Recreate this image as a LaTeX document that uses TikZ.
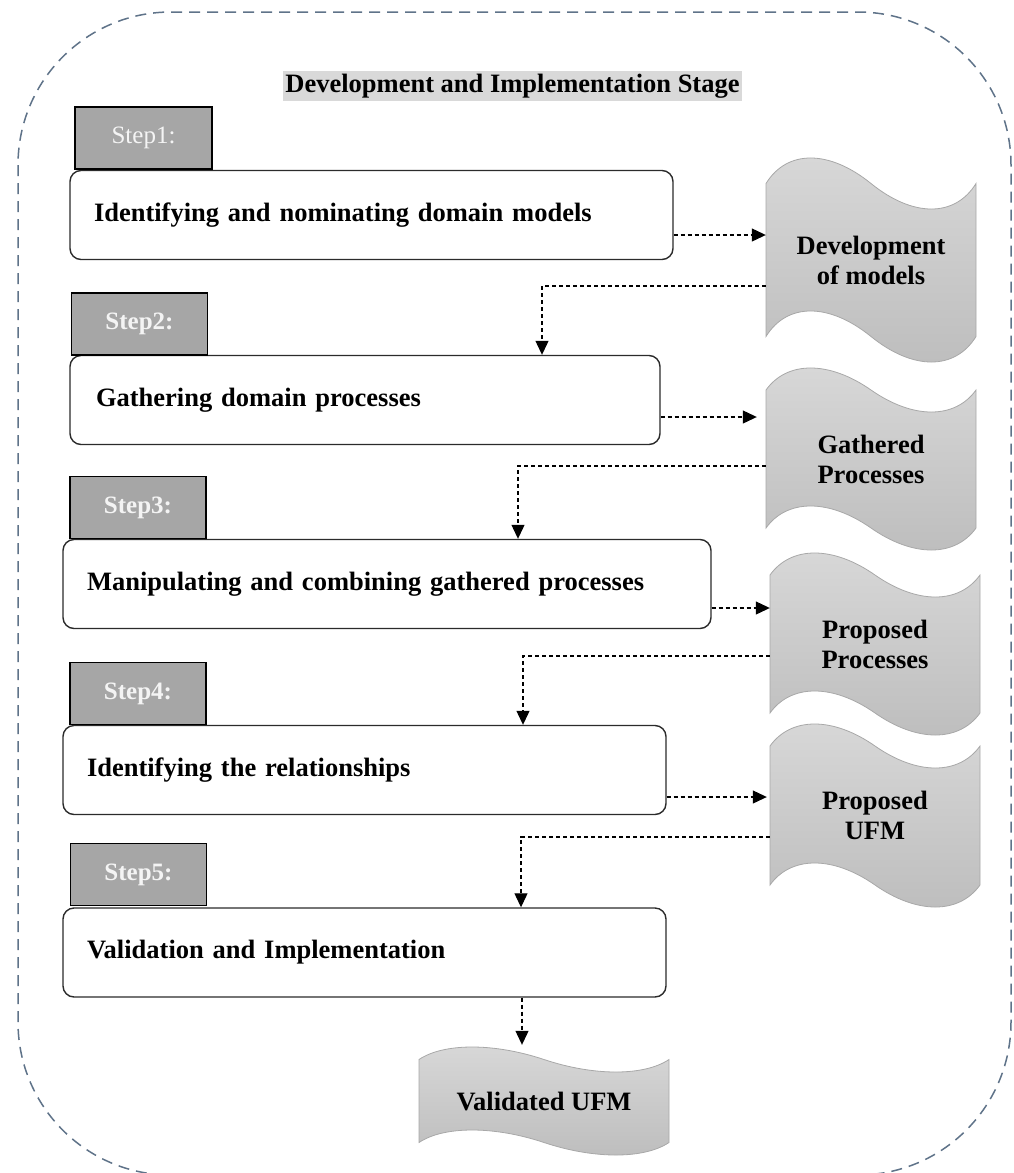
\documentclass[tikz,border=0pt]{standalone}
\usepackage{fontspec}
\setmainfont{Liberation Serif}
\usetikzlibrary{arrows.meta}

\definecolor{frameblue}{HTML}{5F7389}
\definecolor{tabgray}{HTML}{A6A6A6}
\definecolor{titlegray}{HTML}{D9D9D9}
\definecolor{tapetop}{HTML}{D8D8D8}
\definecolor{tapebot}{HTML}{BDBDBD}
\definecolor{tapeline}{HTML}{A8A8A8}
\definecolor{boxline}{HTML}{2B2B2B}
\definecolor{steptext}{HTML}{F4F4F4}

% wavy "punched tape" outline: #1 centre, #2 half width, #3 half height, #4 total bend
\newcommand\tapeoutline[4]{%
  \begin{scope}[shift={#1}]
    \pgfmathsetmacro\tpa{#2}
    \pgfmathsetmacro\tpt{-#3+#4/2}
    \pgfmathsetmacro\tpu{#3-#4/2}
    \pgfmathsetmacro\tpk{0.667*#4}
    \path[tapefill]
      (-\tpa,\tpt)
        .. controls (-0.8*\tpa,\tpt-\tpk) and (-0.4*\tpa,\tpt-\tpk) .. (0,\tpt)
        .. controls (0.4*\tpa,\tpt+\tpk) and (0.8*\tpa,\tpt+\tpk) .. (\tpa,\tpt)
      -- (\tpa,\tpu)
        .. controls (0.8*\tpa,\tpu+\tpk) and (0.4*\tpa,\tpu+\tpk) .. (0,\tpu)
        .. controls (-0.4*\tpa,\tpu-\tpk) and (-0.8*\tpa,\tpu-\tpk) .. (-\tpa,\tpu)
      -- cycle;
  \end{scope}}

\begin{document}
\begin{tikzpicture}[x=1pt,y=-1pt,
  every node/.style={font=\fontsize{26.5}{30}\selectfont\bfseries},
  frame/.style={draw=frameblue, line width=1.5pt, dash pattern=on 11pt off 7pt, rounded corners=153pt},
  titlebar/.style={fill=titlegray, minimum width=459pt, minimum height=30pt, inner sep=0pt},
  stepbox/.style={draw=black, line width=1.6pt, fill=tabgray, text=steptext,
    minimum width=136pt, minimum height=62pt, inner sep=0pt,
    font=\fontsize{25}{28}\selectfont\bfseries},
  taskbox/.style={draw=boxline, line width=1.4pt, rounded corners=11pt, fill=white,
    inner xsep=24pt, inner ysep=0pt, text width=#1, align=left, minimum height=89pt},
  tapefill/.style={draw=tapeline, line width=0.8pt, top color=tapetop, bottom color=tapebot},
  doclabel/.style={align=center, inner sep=0pt},
  flow/.style={draw=black, line width=1.1pt, dash pattern=on 4pt off 3pt,
    -{Triangle[length=14pt,width=13pt]}}
]
\useasboundingbox (0,0) rectangle (1014,1173);
\clip (0,0) rectangle (1014,1173);

% outer stage frame
\draw[frame] (18,12) rectangle (1011,1175);

% stage title
\node[titlebar] (title) at (512.5,86) {Development and Implementation Stage};

% task boxes
\node[taskbox=555pt] (b1) at (371.5,215) {Identifying and nominating domain models};
\node[taskbox=538pt, inner xsep=26pt] (b2) at (365,400) {Gathering domain processes};
\node[taskbox=600pt] (b3) at (387,584) {Manipulating and combining gathered processes};
\node[taskbox=555pt] (b4) at (364.5,770) {Identifying the relationships};
\node[taskbox=555pt] (b5) at (364.5,952.5) {Validation and Implementation};

% step tabs
\node[stepbox, font=\fontsize{25}{28}\selectfont\mdseries, minimum width=137pt] (s1) at (143.5,138) {Step1:};
\node[stepbox] (s2) at (139.5,324) {Step2:};
\node[stepbox] (s3) at (138,507.5) {Step3:};
\node[stepbox] (s4) at (138,693.5) {Step4:};
\node[stepbox] (s5) at (138.5,874.5) {Step5:};

% output documents
\tapeoutline{(871,260)}{105}{102}{51}
\node[doclabel, minimum width=210pt, minimum height=204pt] (d1) at (871,260) {Development\\of models};
\tapeoutline{(871,459)}{105}{91}{44}
\node[doclabel, minimum width=210pt, minimum height=182pt] (d2) at (871,459) {Gathered\\Processes};
\tapeoutline{(875,644)}{105}{91}{44}
\node[doclabel, minimum width=210pt, minimum height=182pt] (d3) at (875,644) {Proposed\\Processes};
\tapeoutline{(875,815.5)}{105}{91.5}{44}
\node[doclabel, minimum width=210pt, minimum height=183pt] (d4) at (875,815.5) {Proposed\\UFM};
\tapeoutline{(544,1101)}{125}{54}{25}
\node[doclabel, minimum width=250pt, minimum height=108pt] (d5) at (544,1101) {Validated UFM};

% flows from steps to documents
\draw[flow] ([yshift=-20pt]b1.east) -- ([yshift=-20pt]b1.east -| d1.west);
\draw[flow, shorten >=9pt] ([yshift=-17pt]b2.east) -- ([yshift=-17pt]b2.east -| d2.west);
\draw[flow] ([yshift=-24pt]b3.east) -- ([yshift=-24pt]b3.east -| d3.west);
\draw[flow, shorten >=3pt] ([yshift=-27pt]b4.east) -- ([yshift=-27pt]b4.east -| d4.west);
\draw[flow, shorten >=2pt] ([xshift=157.5pt]b5.south) -- ([xshift=157.5pt]b5.south |- d5.north);

% flows from documents to the next step
\draw[flow] ([yshift=-26pt]d1.west) -| ([xshift=177pt]b2.north);
\draw[flow] ([yshift=-7pt]d2.west) -| ([xshift=131pt]b3.north);
\draw[flow] ([yshift=-12pt]d3.west) -| ([xshift=158.5pt]b4.north);
\draw[flow] ([yshift=-21.5pt]d4.west) -| ([xshift=156.5pt]b5.north);
\end{tikzpicture}
\end{document}
